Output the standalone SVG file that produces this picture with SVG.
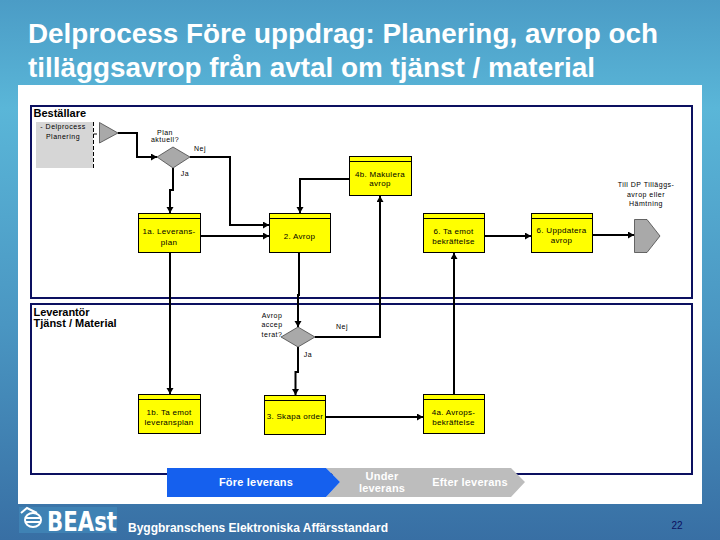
<svg xmlns="http://www.w3.org/2000/svg" width="720" height="540" viewBox="0 0 720 540">
<style>
text{font-family:"Liberation Sans",Arial,sans-serif}
.t{font-size:8px;fill:#000;text-anchor:middle;letter-spacing:.3px}
.s{font-size:7px;fill:#000;text-anchor:middle;letter-spacing:.5px}
.l{font-size:11px;font-weight:bold;fill:#000}
.box{fill:#ffff00;stroke:#000;stroke-width:1}
.hd{stroke:#000;stroke-width:1}
.lane{fill:none;stroke:#0c1060;stroke-width:2}
.c{fill:none;stroke:#000;stroke-width:2;marker-end:url(#a)}
.g{fill:#a9a9a9;stroke:#333;stroke-width:.7}
.w{fill:#fff;font-weight:bold;text-anchor:middle}
.ti{font-size:27px;font-weight:bold;fill:#fff}
</style>
<defs>
<linearGradient id="bg" x1="0" y1="0" x2="0" y2="1">
<stop offset="0" stop-color="#4b9cc6"/><stop offset=".2" stop-color="#5ab6d8"/><stop offset=".6" stop-color="#4a96c2"/><stop offset="1" stop-color="#386fa4"/>
</linearGradient>
<marker id="a" markerUnits="userSpaceOnUse" markerWidth="8" markerHeight="8" refX="6" refY="3.500" orient="auto"><path d="M0 0L6 3.500L0 7Z" fill="#000"/></marker>
</defs>
<rect width="720" height="540" fill="url(#bg)"/>
<rect x="18" y="85" width="684" height="419" fill="#fff"/>
<text class="ti" x="28" y="43" textLength="630" lengthAdjust="spacingAndGlyphs">Delprocess Före uppdrag: Planering, avrop och</text>
<text class="ti" x="28" y="77" textLength="567" lengthAdjust="spacingAndGlyphs">tilläggsavrop från avtal om tjänst / material</text>

<g id="lanes">
<rect class="lane" x="31" y="106" width="661" height="192"/>
<rect class="lane" x="31" y="304" width="661" height="170"/>
<text class="l" x="33.500" y="117">Beställare</text>
<text class="l" x="33.500" y="316" textLength="56">Leverantör</text>
<text class="l" x="33.500" y="327">Tjänst / Material</text>
</g>

<g id="connectors">
<path class="c" d="M118 133H137V157H157"/>
<path class="c" d="M190 157H230V225H269"/>
<path class="c" d="M173 168V190H170V213"/>
<path class="c" d="M201 236H269"/>
<path class="c" d="M170 253V394"/>
<path class="c" d="M299 253V295H298V327"/>
<path class="c" d="M315 337H380V196"/>
<path class="c" d="M349 179H300V213"/>
<path class="c" d="M298 347V372H295.500V395"/>
<path class="c" d="M326 417H423"/>
<path class="c" d="M454 394V253"/>
<path class="c" d="M485 236H531"/>
<path class="c" d="M593 235H634"/>
</g>

<g id="start">
<rect x="36" y="122" width="57" height="46" fill="#d6d6d6"/>
<path d="M93.500 122V168M93.500 134H97" fill="none" stroke="#000" stroke-dasharray="4 2"/>
<path class="g" d="M99.500 122.500L118 133L99.500 143Z"/>
<text class="s" x="63" y="129">- Delprocess</text>
<text class="s" x="63" y="139">Planering</text>
</g>

<g id="d1">
<path class="g" d="M157 157L173 147L190 157L173 168Z"/>
<text class="s" x="165" y="135">Plan</text>
<text class="s" x="165" y="142">aktuell?</text>
<text class="s" x="200" y="151">Nej</text>
<text class="s" x="185" y="176">Ja</text>
</g>

<g id="n1a"><rect class="box" x="138.500" y="213.500" width="62" height="39"/><path class="hd" d="M138.500 218.500H200.500"/>
<text class="t" x="169" y="234">1a. Leverans-</text><text class="t" x="169" y="245">plan</text></g>

<g id="n2"><rect class="box" x="269.500" y="213.500" width="61" height="39"/><path class="hd" d="M269.500 218.500H330.500"/>
<text class="t" x="299.500" y="239">2. Avrop</text></g>

<g id="n4b"><rect class="box" x="349.500" y="156.500" width="62" height="39"/><path class="hd" d="M349.500 161.500H411.500"/>
<text class="t" x="380" y="177">4b. Makulera</text><text class="t" x="380" y="186">avrop</text></g>

<g id="n6a"><rect class="box" x="423.500" y="213.500" width="61" height="39"/><path class="hd" d="M423.500 218.500H484.500"/>
<text class="t" x="453.500" y="234">6. Ta emot</text><text class="t" x="453.500" y="244">bekräftelse</text></g>

<g id="n6b"><rect class="box" x="531.500" y="213.500" width="61" height="39"/><path class="hd" d="M531.500 218.500H592.500"/>
<text class="t" x="561.500" y="233">6. Uppdatera</text><text class="t" x="561.500" y="243">avrop</text></g>

<g id="end">
<path class="g" d="M634.500 219.500H647L660 236L647 252.500H634.500Z"/>
<text class="s" x="646" y="187">Till DP Tilläggs-</text>
<text class="s" x="646" y="197">avrop eller</text>
<text class="s" x="646" y="206">Hämtning</text>
</g>

<g id="d2">
<path class="g" d="M281 337L298 327L315 337L298 347Z"/>
<text class="s" x="272" y="318">Avrop</text>
<text class="s" x="272" y="327">accep</text>
<text class="s" x="272" y="337">terat?</text>
<text class="s" x="342" y="329">Nej</text>
<text class="s" x="308" y="357">Ja</text>
</g>

<g id="n1b"><rect class="box" x="138.500" y="394.500" width="62" height="39"/><path class="hd" d="M138.500 399.500H200.500"/>
<text class="t" x="169" y="415">1b. Ta emot</text><text class="t" x="169" y="425">leveransplan</text></g>

<g id="n3"><rect class="box" x="264.500" y="395.500" width="61" height="39"/><path class="hd" d="M264.500 400.500H325.500"/>
<text class="t" x="295" y="419">3. Skapa order</text></g>

<g id="n4a"><rect class="box" x="423.500" y="394.500" width="61" height="39"/><path class="hd" d="M423.500 399.500H484.500"/>
<text class="t" x="453.500" y="415">4a. Avrops-</text><text class="t" x="453.500" y="425">bekräftelse</text></g>

<g id="phases">
<path d="M326 468H511L525 482L511 497H326L340 482Z" fill="#bdbdbd"/>
<path d="M167 468H326L340 482L326 497H167Z" fill="#1560ee"/>
<text class="w" x="256" y="486" font-size="11" letter-spacing=".2">Före leverans</text>
<text class="w" x="382" y="480" font-size="11" letter-spacing=".2">Under</text>
<text class="w" x="382" y="492" font-size="11" letter-spacing=".2">leverans</text>
<text class="w" x="470" y="486" font-size="11" letter-spacing=".2">Efter leverans</text>
</g>

<g id="footer">
<rect x="19" y="507" width="98" height="26" fill="#3f82b4"/>
<path d="M21 513L27 508L37 513" fill="none" stroke="#fff" stroke-width="2"/>
<ellipse cx="33" cy="520" rx="8" ry="7" fill="none" stroke="#fff" stroke-width="2"/>
<path d="M25 518H41M26 522H40" stroke="#fff" stroke-width="2"/>
<text x="47" y="531" font-size="27" font-weight="bold" fill="#fff" style="font-family:'DejaVu Sans',sans-serif" textLength="70" lengthAdjust="spacingAndGlyphs">BEAst</text>
<text x="128" y="532" font-size="12" font-weight="bold" fill="#fff" textLength="260">Byggbranschens Elektroniska Affärsstandard</text>
<text x="677" y="529" font-size="10" fill="#0c1060" text-anchor="middle">22</text>
</g>
</svg>
